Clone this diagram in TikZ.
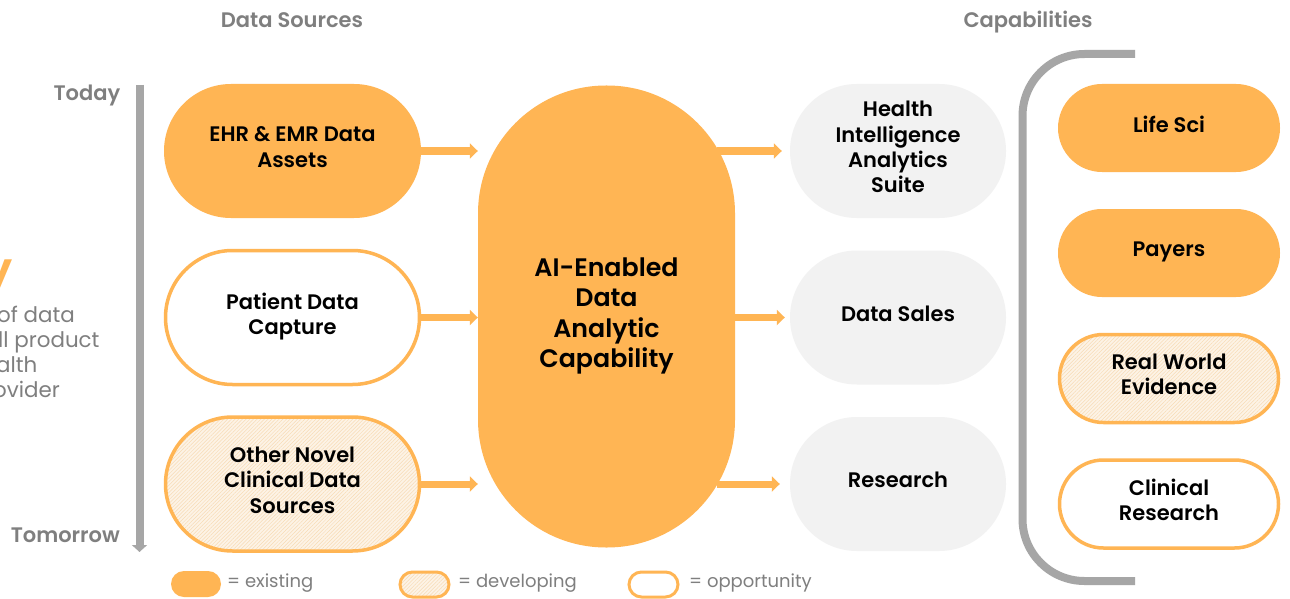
\documentclass[tikz,border=0pt]{standalone}
\usepackage{fontspec}
\setmainfont{Poppins}[UprightFont=* SemiBold,BoldFont=* SemiBold]
\newfontfamily\plainfont{Poppins}
\usetikzlibrary{arrows.meta,patterns.meta}
\definecolor{orangeA}{HTML}{FFB554}
\definecolor{hatchBg}{HTML}{FDF3E6}
\definecolor{hatchLn}{HTML}{F7DBB5}
\definecolor{greyPill}{HTML}{F2F2F2}
\definecolor{greyLine}{HTML}{A6A6A6}
\definecolor{greyText}{HTML}{7F7F7F}
\newcommand\lift{\rule[-8pt]{0pt}{8pt}}
\tikzset{
 x=1pt,y=-1pt,
 pilltext/.style={text=black,align=center,font=\fontsize{21}{25.3}\selectfont,inner sep=0pt,rectangle},
 srcsize/.style={minimum width=#1,minimum height=134,rounded corners=67},
 capsize/.style={minimum width=#1,minimum height=88,rounded corners=44},
 solidpill/.style={pilltext,fill=orangeA},
 openpill/.style={pilltext,draw=orangeA,line width=3.5,fill=white},
 hatchpill/.style={pilltext,draw=orangeA,line width=3.5,preaction={fill=hatchBg},pattern={Lines[angle=45,distance=2.6pt,line width=.5pt]},pattern color=hatchLn},
 greypill/.style={pilltext,fill=greyPill},
 flow/.style={-{Triangle[length=8,width=15]},draw=orangeA,line width=7},
 head/.style={text=greyText,font=\fontsize{21}{25}\selectfont,inner sep=0pt,anchor=base},
 legend/.style={text=greyText,font=\fontsize{18}{22}\plainfont,inner sep=0pt,anchor=base west},
 side/.style={text=greyText,font=\fontsize{21.4}{25.3}\plainfont,inner sep=0pt,anchor=base west},
}
\begin{document}
\begin{tikzpicture}
\useasboundingbox (0,0) rectangle (1290,599);
\fill[white] (0,0) rectangle (1290,599);
% cropped text at the left edge
\begin{scope}
\clip (0,0) rectangle (1290,599);
\node[text=orangeA,font=\fontsize{50}{50}\selectfont,inner sep=0pt,anchor=east] (cropy) at (13,280) {y};
\node[side] (c1) at (-3,322) {of data};
\node[side] (c2) at (-2,347) {ll product};
\node[side] (c3) at (-4,372.5) {alth};
\node[side] (c4) at (-7,397.5) {ovider};
\end{scope}
% headings
\node[head] (h1) at (292,28) {Data Sources};
\node[head] (h2) at (1028,28) {Capabilities};
\node[head,anchor=base east] (today) at (120.5,101) {Today};
\node[head,anchor=base east] (tomorrow) at (120,542) {Tomorrow};
% time arrow
\coordinate (t0) at (139.5,85);
\coordinate (t1) at (139.5,552);
\draw[draw=greyLine,line width=8,-{Triangle[length=7,width=15]}] (t0) -- (t1);
% sources
\node[solidpill,srcsize=257] (s1) at (292.5,151) {EHR \& EMR Data\\Assets\lift};
\node[openpill,srcsize=254] (s2) at (292.5,317.5) {Patient Data\\Capture\lift};
\node[hatchpill,srcsize=254] (s3) at (292.5,484) {Other Novel\\Clinical Data\\Sources\lift};
% centre
\node[solidpill,minimum width=257,minimum height=462,rounded corners=128,font=\fontsize{25.3}{30.3}\selectfont] (core) at (606.5,316.5) {AI-Enabled\\Data\\Analytic\\Capability\lift};
% outputs
\node[greypill,minimum width=216,minimum height=134,rounded corners=67] (o1) at (898,151) {Health\\Intelligence\\Analytics\\Suite\lift};
\node[greypill,minimum width=216,minimum height=134,rounded corners=67] (o2) at (898,317.5) {Data Sales\lift};
\node[greypill,minimum width=216,minimum height=134,rounded corners=67] (o3) at (898,484) {Research\lift};
% connectors
\draw[flow] (s1.east) -- (core.west |- s1.east);
\draw[flow] (s2.east) -- (core.west |- s2.east);
\draw[flow] (s3.east) -- (core.west |- s3.east);
\draw[flow,shorten >=8] ([xshift=-18]core.east |- o1.west) -- (o1.west);
\draw[flow,shorten >=5] (core.east |- o2.west) -- (o2.west);
\draw[flow,shorten >=10] ([xshift=-18]core.east |- o3.west) -- (o3.west);
% bracket
\coordinate (b0) at (1135,54);
\coordinate (b1) at (1135,581);
\draw[draw=greyLine,line width=8,rounded corners=62] (b0) -- (1022.5,54) -- (1022.5,581) -- (b1);
% capabilities
\node[solidpill,capsize=222] (c1p) at (1169,128) {Life Sci\lift};
\node[solidpill,capsize=222] (c2p) at (1169,253) {Payers\lift};
\node[hatchpill,capsize=219] (c3p) at (1169,378.5) {Real World\\Evidence\lift};
\node[openpill,capsize=219] (c4p) at (1169,504) {Clinical\\Research\lift};
% legend
\node[solidpill,minimum width=50,minimum height=26,rounded corners=13] (l1) at (196,584) {};
\node[hatchpill,minimum width=49,minimum height=25,rounded corners=12.5,line width=3] (l2) at (424.5,584.5) {};
\node[openpill,minimum width=49,minimum height=25,rounded corners=12.5,line width=3] (l3) at (653.5,584.5) {};
\node[legend] (t1) at (227,587) {= existing};
\node[legend] (t2) at (458,587) {= developing};
\node[legend] (t3) at (689,587) {= opportunity};
\end{tikzpicture}
\end{document}
